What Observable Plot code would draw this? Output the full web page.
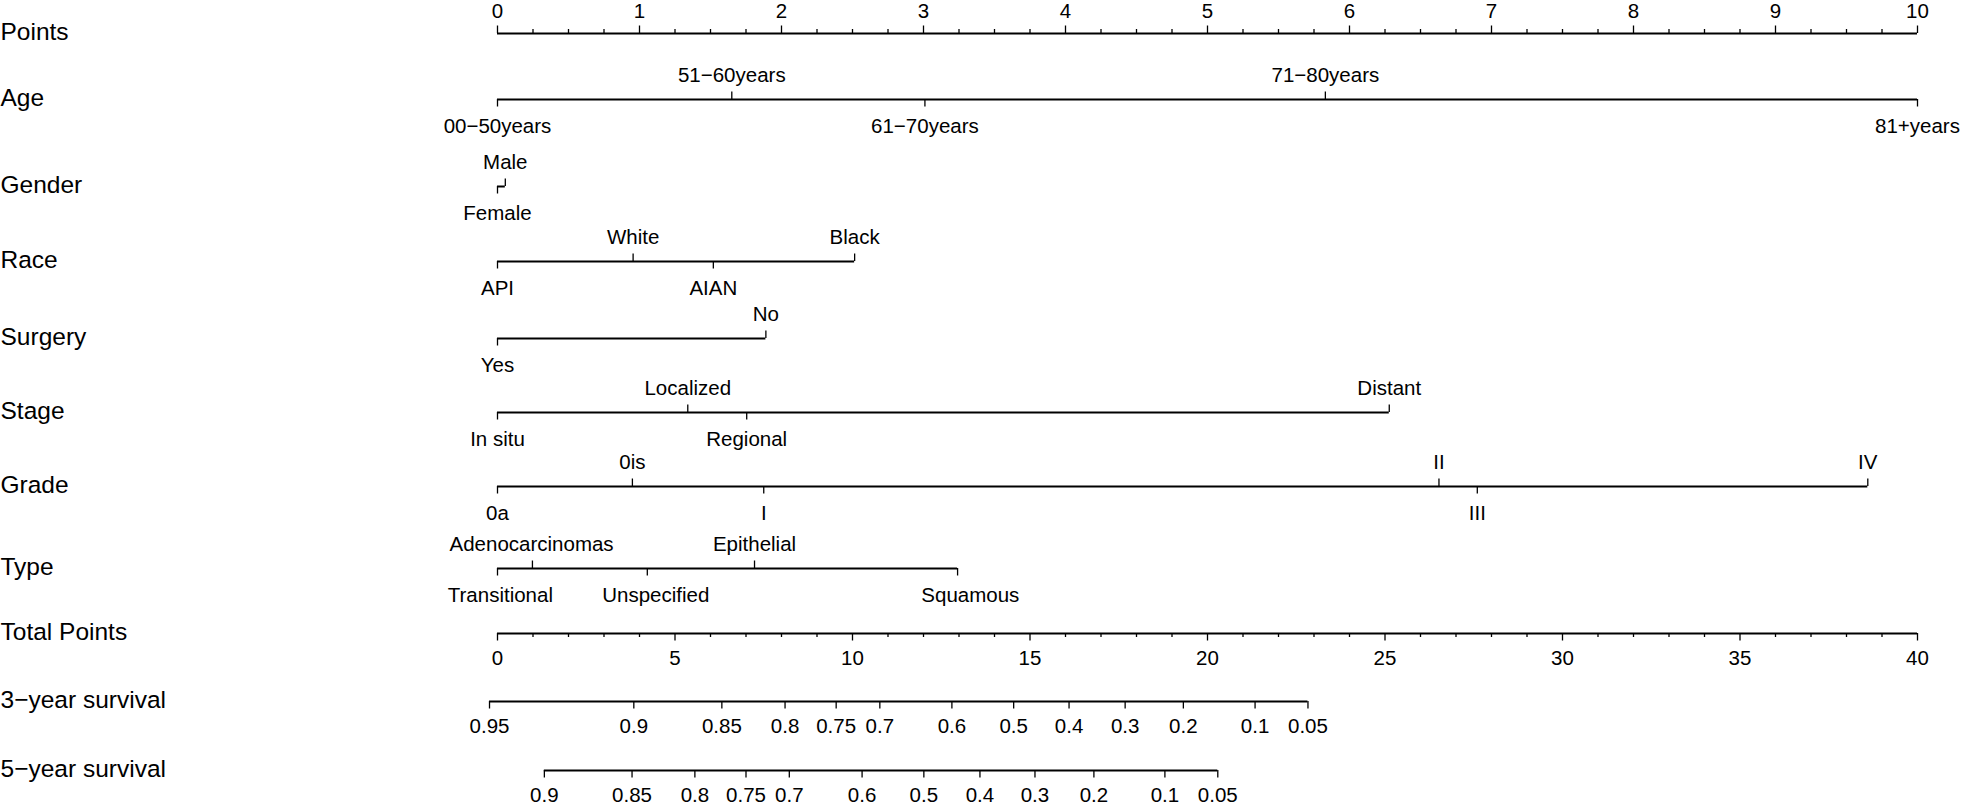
<!DOCTYPE html>
<html><head><meta charset="utf-8">
<script src="https://cdn.jsdelivr.net/npm/d3@7"></script>
<script src="https://cdn.jsdelivr.net/npm/@observablehq/plot@0.6"></script>
<style>body{margin:0;background:#fff} svg{display:block}</style>
</head><body><div id="chart"></div>
<script>
// ---- data ----
const rowNames = ["Points","Age","Gender","Race","Surgery","Stage","Grade","Type","Total Points","3\u2212year survival","5\u2212year survival"];
const pointsTicks = [0,1,2,3,4,5,6,7,8,9,10];
const totalTicks = [0,5,10,15,20,25,30,35,40];
const ageLevels = ["00\u221250years","51\u221260years","61\u221270years","71\u221280years","81+years"];
const agePoints = [0, 1.65, 3.01, 5.83, 10];
const genderLevels = ["Female","Male"];
const genderPoints = [0, 0.055];
const raceLevels = ["API","White","AIAN","Black"];
const racePoints = [0, 0.955, 1.52, 2.515];
const surgeryLevels = ["Yes","No"];
const surgeryPoints = [0, 1.89];
const stageLevels = ["In situ","Localized","Regional","Distant"];
const stagePoints = [0, 1.34, 1.755, 6.28];
const gradeLevels = ["0a","0is","I","II","III","IV"];
const gradePoints = [0, 0.95, 1.875, 6.63, 6.90, 9.65];
const typeLevels = ["Transitional","Adenocarcinomas","Unspecified","Epithelial","Squamous"];
const typePoints = [0, 0.246, 1.055, 1.81, 3.24];
const typeLabelPoints = [0.02, 0.24, 1.115, 1.81, 3.33];
const surv3Labels = ["0.95","0.9","0.85","0.8","0.75","0.7","0.6","0.5","0.4","0.3","0.2","0.1","0.05"];
const surv3Total = [-0.225, 3.84, 6.32, 8.10, 9.54, 10.77, 12.80, 14.54, 16.10, 17.68, 19.32, 21.34, 22.83];
const surv5Labels = ["0.9","0.85","0.8","0.75","0.7","0.6","0.5","0.4","0.3","0.2","0.1","0.05"];
const surv5Total = [1.32, 3.79, 5.56, 7.00, 8.22, 10.27, 12.01, 13.59, 15.14, 16.80, 18.80, 20.29];

// ---- layout ----
const W = 1961, H = 807;
const mLeft = 497, mRight = 44;
const rowY = [33, 99, 186, 261, 338, 412, 486, 568, 633, 701, 770];
const TICK = 7.5, MINOR = 4;
const FONT = "'Liberation Sans', Arial, Helvetica, sans-serif";
const TICKFONT = 20.5, ROWFONT = 24.5;

// ---- tables ----
function levels(row, labels, pts, labelPts) {
  return labels.map((label, i) => ({row, label, p: pts[i], lp: labelPts ? labelPts[i] : pts[i], side: i % 2 === 0 ? "below" : "above"}));
}
const cats = [
  ...levels(1, ageLevels, agePoints),
  ...levels(2, genderLevels, genderPoints),
  ...levels(3, raceLevels, racePoints),
  ...levels(4, surgeryLevels, surgeryPoints),
  ...levels(5, stageLevels, stagePoints),
  ...levels(6, gradeLevels, gradePoints),
  ...levels(7, typeLevels, typePoints, typeLabelPoints)
];
const tp2p = v => v * 10 / 40; // total points -> points scale
const surv = [
  ...surv3Labels.map((label, i) => ({row: 9, label, p: tp2p(surv3Total[i])})),
  ...surv5Labels.map((label, i) => ({row: 10, label, p: tp2p(surv5Total[i])}))
].map(d => ({...d, lp: d.p}));
const ptsMajor = pointsTicks.map(v => ({row: 0, p: v, lp: v, label: String(v)}));
const ptsMinor = d3.range(0, 40).filter(i => i % 4 !== 0).map(i => ({row: 0, p: i / 4}));
const totMajor = totalTicks.map(v => ({row: 8, p: tp2p(v), lp: tp2p(v), label: String(v)}));
const totMinor = d3.range(0, 40).filter(i => i % 5 !== 0).map(i => ({row: 8, p: tp2p(i)}));

const lines = [
  {row: 0, x1: 0, x2: d3.max(pointsTicks)},
  ...d3.groups(cats, d => d.row).map(([row, v]) => ({row, x1: d3.min(v, d => d.p), x2: d3.max(v, d => d.p)})),
  {row: 8, x1: 0, x2: tp2p(d3.max(totalTicks))},
  ...d3.groups(surv, d => d.row).map(([row, v]) => ({row, x1: d3.min(v, d => d.p), x2: d3.max(v, d => d.p)}))
];

const catsAbove = cats.filter(d => d.side === "above");
const catsBelow = cats.filter(d => d.side === "below");
const up = [...ptsMajor, ...catsAbove];
const down = [...catsBelow, ...totMajor, ...surv];

const chart = Plot.plot({
  width: W, height: H,
  marginLeft: mLeft, marginRight: mRight, marginTop: 0, marginBottom: 0,
  style: {fontFamily: FONT, background: "white", color: "black"},
  x: {domain: [0, 10], axis: null},
  y: {type: "linear", domain: d3.range(rowNames.length), range: rowY, axis: null},
  marks: [
    Plot.ruleY(lines, {y: "row", x1: "x1", x2: "x2", stroke: "black", strokeWidth: 2}),
    Plot.ruleX(up, {x: "p", y1: "row", y2: "row", insetTop: -TICK, insetBottom: 0, stroke: "black", strokeWidth: 1.3}),
    Plot.ruleX(down, {x: "p", y1: "row", y2: "row", insetTop: 0, insetBottom: -TICK, stroke: "black", strokeWidth: 1.3}),
    Plot.ruleX(ptsMinor, {x: "p", y1: "row", y2: "row", insetTop: -MINOR, insetBottom: 0, stroke: "black", strokeWidth: 1.3}),
    Plot.ruleX(totMinor, {x: "p", y1: "row", y2: "row", insetTop: 0, insetBottom: -MINOR, stroke: "black", strokeWidth: 1.3}),
    Plot.text(ptsMajor, {x: "lp", y: "row", text: "label", dy: -22, fontSize: TICKFONT, fill: "black"}),
    Plot.text(catsAbove, {x: "lp", y: "row", text: "label", dy: -24, fontSize: TICKFONT, fill: "black"}),
    Plot.text(catsBelow, {x: "lp", y: "row", text: "label", dy: 27, fontSize: TICKFONT, fill: "black"}),
    Plot.text([...totMajor, ...surv], {x: "lp", y: "row", text: "label", dy: 25, fontSize: TICKFONT, fill: "black"}),
    Plot.text(rowNames.map((name, row) => ({row, name})), {y: "row", text: "name", frameAnchor: "left", textAnchor: "start", dx: -mLeft, dy: -1, fontSize: ROWFONT, fill: "black"})
  ]
});
document.getElementById("chart").appendChild(chart);
</script>
</body></html>
